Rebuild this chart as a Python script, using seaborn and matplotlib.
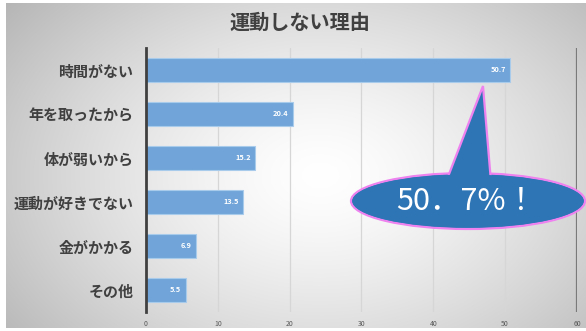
import numpy as np
import pandas as pd
import matplotlib
matplotlib.use("Agg")
import matplotlib.pyplot as plt
from matplotlib.patches import Ellipse, Polygon
import seaborn as sns

# Survey data: reasons for not exercising (%)
reasons = ["時間がない", "年を取ったから", "体が弱いから", "運動が好きでない", "金がかかる", "その他"]
percent = [50.7, 20.4, 15.2, 13.5, 6.9, 5.5]
x_ticks = [0, 10, 20, 30, 40, 50, 60]
title = "運動しない理由"
callout = "50．7%！"

sns.set_theme(style="white")
plt.rcParams["font.family"] = ["Noto Sans CJK JP", "DejaVu Sans"]

W, H = 586, 331
fig = plt.figure(figsize=(W / 100, H / 100), dpi=100)

# Radial grey slide background with a thin white frame
bg = fig.add_axes([0, 0, 1, 1], zorder=-10)
yy, xx = np.mgrid[0:H, 0:W]
r = np.sqrt(((xx - 320) / 330.0) ** 2 + ((yy - 175) / 230.0) ** 2)
shade = 1.0 - 0.22 * np.clip(r, 0, 1.3) ** 1.4
img = np.dstack([shade, shade, shade])
img[:3, :, :] = 1.0
img[-3:, :, :] = 1.0
img[:, :6, :] = 1.0
bg.imshow(img, aspect="auto", extent=[0, W, H, 0], interpolation="bilinear")
bg.set_xlim(0, W)
bg.set_ylim(H, 0)
bg.axis("off")

df = pd.DataFrame({"reason": reasons, "percent": percent})

ax = fig.add_axes([146 / W, 1 - 312 / H, (577 - 146) / W, (312 - 48) / H])
ax.set_facecolor("none")
sns.barplot(data=df, x="percent", y="reason", orient="h", color="#71A5D9",
            width=0.56, edgecolor="#A9CBEB", linewidth=0.8, saturation=1,
            ax=ax, zorder=3)

ax.set_xlim(0, 60)
ax.set_ylim(len(reasons) - 0.5, -0.5)
ax.set_xticks(x_ticks)
ax.set_xticklabels([str(t) for t in x_ticks], fontsize=5, color="#595959")
ax.tick_params(axis="x", length=0, pad=6)
ax.tick_params(axis="y", length=0, pad=9)
for lbl in ax.get_yticklabels():
    lbl.set_fontsize(10.8)
    lbl.set_fontweight("bold")
    lbl.set_color("#404040")
ax.set_xlabel("")
ax.set_ylabel("")

for t in x_ticks[1:-1]:
    ax.axvline(t, color="#D6D6D6", lw=0.9, zorder=1)
ax.axvline(60, color="#7A7A7A", lw=1.6, zorder=1)
for s in ["top", "right", "bottom"]:
    ax.spines[s].set_visible(False)
ax.spines["left"].set_color("#404040")
ax.spines["left"].set_linewidth(2)
ax.spines["left"].set_zorder(4)

for i, v in enumerate(percent):
    ax.text(v - 0.6, i, f"{v}", ha="right", va="center", fontsize=5.3,
            color="white", fontweight="bold", zorder=5)

fig.text(300 / W, 1 - 22 / H, title, ha="center", va="center",
         fontsize=14.5, fontweight="bold", color="#404040")

# Speech-bubble callout pointing to the top bar
ov = fig.add_axes([0, 0, 1, 1], zorder=10)
ov.set_xlim(0, W)
ov.set_ylim(H, 0)
ov.axis("off")
blue = "#2E75B6"
pink = "#EE82EE"
ov.add_patch(Ellipse((468, 201), 234, 56, facecolor=blue, edgecolor=pink, lw=1.6, zorder=1))
ov.add_patch(Polygon([(446, 182), (483, 86), (491, 182)], closed=True,
                     facecolor=blue, edgecolor=pink, lw=1.6, zorder=2))
ov.add_patch(Ellipse((468, 201), 231, 53, facecolor=blue, edgecolor="none", zorder=3))
ov.text(466, 201, callout, ha="center", va="center", fontsize=22,
        color="white", zorder=4)

fig.savefig("out.png", dpi=100)
